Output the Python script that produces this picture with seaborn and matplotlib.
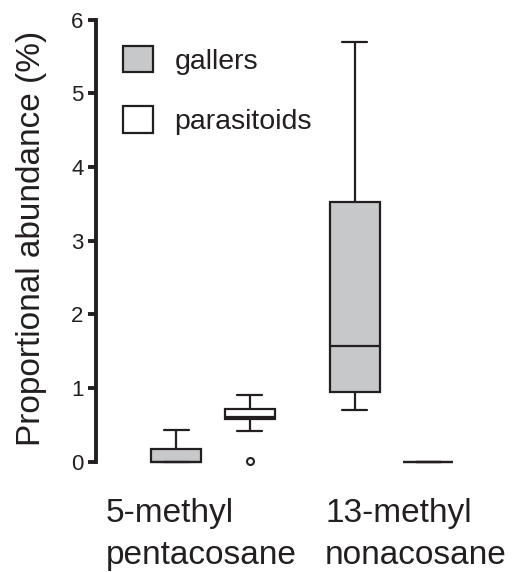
import matplotlib
matplotlib.use("Agg")
import matplotlib.pyplot as plt
import matplotlib.transforms as mtransforms
import seaborn as sns
import pandas as pd

# ---- data ----
compounds = ["5-methyl\npentacosane", "13-methyl\nnonacosane"]
groups = ["gallers", "parasitoids"]
gallers_5me = [0.0, 0.0, 0.0, 0.0, 0.0, 0.08, 0.17, 0.30, 0.43]
parasitoids_5me = [0.01, 0.42, 0.576, 0.59, 0.61, 0.65, 0.71, 0.80, 0.90]
gallers_13me = [0.70, 0.85, 0.94, 1.20, 1.57, 2.50, 3.53, 4.60, 5.70]
parasitoids_13me = [0.0, 0.0, 0.0, 0.0, 0.0, 0.0, 0.0, 0.0, 0.0]
y_ticks = [0, 1, 2, 3, 4, 5, 6]

rows = []
for comp, grp, vals in [
    (compounds[0], groups[0], gallers_5me),
    (compounds[0], groups[1], parasitoids_5me),
    (compounds[1], groups[0], gallers_13me),
    (compounds[1], groups[1], parasitoids_13me),
]:
    for v in vals:
        rows.append({"compound": comp, "group": grp, "value": v})
df = pd.DataFrame(rows)

ink = "#231f20"
gray = "#c7c8ca"

sns.set_style("ticks")
plt.rcParams["font.family"] = ["Liberation Sans", "DejaVu Sans"]

fig = plt.figure(figsize=(5.13, 5.72), dpi=100)
W, H = 513, 572
ax_bottom_px, ax_top_px = 469.07, 12.33
ax = fig.add_axes([96 / W, 1 - ax_bottom_px / H, 409 / W, (ax_bottom_px - ax_top_px) / H])

sns.boxplot(
    data=df, x="compound", y="value", hue="group", order=compounds,
    hue_order=groups, palette={"gallers": gray, "parasitoids": "white"},
    saturation=1, width=0.824, gap=0.32, linecolor=ink, linewidth=1.6,
    whis=2.0,
    flierprops=dict(marker="o", markersize=5, markerfacecolor="white",
                    markeredgecolor=ink, markeredgewidth=1.5),
    ax=ax,
)

ax.set_xlim((96 - 213) / 178.5, (505 - 213) / 178.5)
ax.set_ylim(-0.1, 6.1)
ax.set_yticks(y_ticks)
ax.set_yticklabels([str(t) for t in y_ticks])

sns.despine(ax=ax, bottom=True)
ax.spines["left"].set_bounds(0, 6)
ax.spines["left"].set_linewidth(2.8)
ax.spines["left"].set_color(ink)

ax.tick_params(axis="y", left=True, length=6, width=2.8, direction="out",
               color=ink, labelsize=16, labelcolor=ink, pad=3)
ax.tick_params(axis="x", bottom=False, length=0, labelsize=24, labelcolor=ink, pad=21)
ax.set_xlabel("")
ax.set_ylabel("Proportional abundance (%)", fontsize=24, color=ink)
ax.yaxis.set_label_coords((47 - 96) / 409, (ax_bottom_px - 238.5) / (ax_bottom_px - ax_top_px))

offsets_px = [-107, -66.5]
for lab, off in zip(ax.get_xticklabels(), offsets_px):
    lab.set_ha("left")
    lab.set_multialignment("left")
    lab.set_linespacing(1.45)
    lab.set_transform(lab.get_transform() +
                      mtransforms.ScaledTranslation(off / 100, 0, fig.dpi_scale_trans))

sns.move_legend(
    ax, "upper left", bbox_to_anchor=(123 / W, 1 - 46 / H),
    bbox_transform=fig.transFigure, frameon=False, title=None,
    fontsize=20.5, handlelength=1.05, handleheight=1.05, handletextpad=0.75,
    labelspacing=1.1, borderpad=0, borderaxespad=0,
)
for t in ax.get_legend().get_texts():
    t.set_color(ink)
for h in ax.get_legend().legend_handles:
    h.set_edgecolor(ink)
    h.set_linewidth(1.6)

fig.savefig("out.png", dpi=100)
